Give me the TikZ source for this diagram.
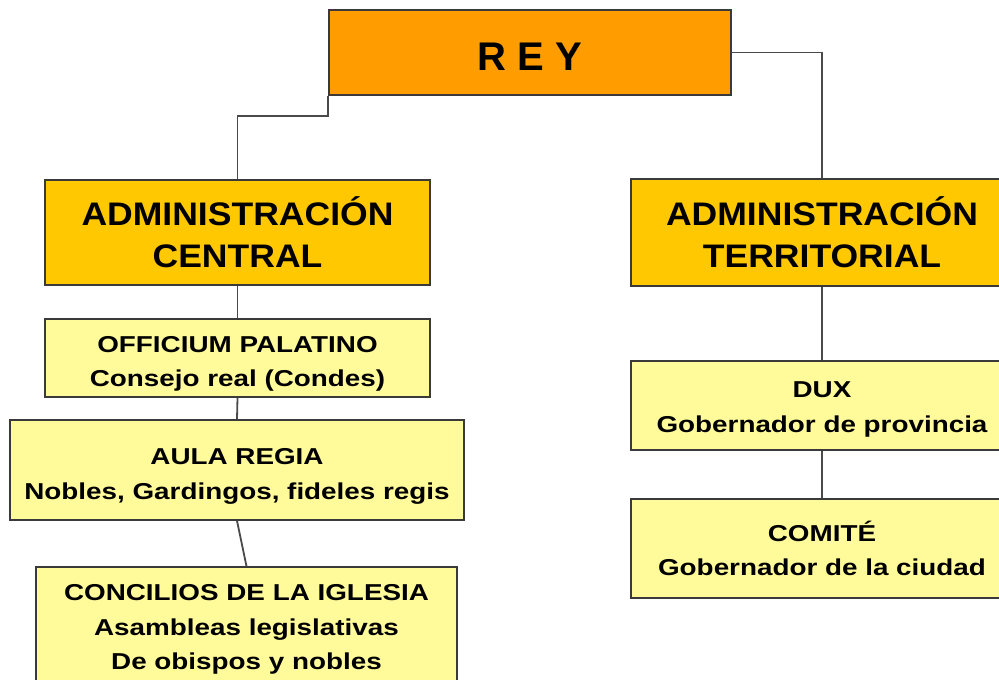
\documentclass[tikz,border=0pt]{standalone}
\usepackage{fontspec}
\setmainfont{Liberation Sans}
\newfontfamily\hdfont{Liberation Sans}[FakeStretch=1.09]
\newfontfamily\smfont{Liberation Sans}[FakeStretch=1.21]
\definecolor{reyorange}{HTML}{FF9C00}
\definecolor{gold}{HTML}{FFC800}
\definecolor{pale}{HTML}{FFFA9A}
\definecolor{edge}{HTML}{3A3A3A}
\definecolor{wire}{HTML}{4A4A4A}
\newcommand{\lowtext}[2]{\raisebox{0pt}[\dimexpr\height+#1pt+#1pt\relax][\depth]{\begin{tabular}{@{}c@{}}#2\end{tabular}}}
\newcommand{\lowword}[2]{\raisebox{0pt}[\dimexpr\height+#1pt+#1pt\relax][\depth]{#2}}
\begin{document}
\begin{tikzpicture}[x=1pt,y=-1pt,
  box/.style={draw=edge, line width=1.5pt, inner sep=0pt, align=center},
  topbox/.style={box, fill=reyorange, font=\fontsize{40}{48}\selectfont\bfseries},
  headbox/.style={box, fill=gold, font=\hdfont\fontsize{32.6}{42}\selectfont\bfseries},
  subbox/.style={box, fill=pale, font=\smfont\fontsize{23}{34.5}\selectfont\bfseries},
  wire/.style={draw=wire, line width=1.8pt}]
\clip (0,0) rectangle (999,680);
\fill[white] (0,0) rectangle (999,680);
\node[topbox, minimum width=402pt, minimum height=85pt] (rey) at (530,52.5) {\lowword{4}{R E Y}};
\node[headbox, minimum width=385pt, minimum height=105pt] (central) at (237.5,232.5) {ADMINISTRACIÓN\\CENTRAL};
\node[headbox, minimum width=382pt, minimum height=107pt] (territorial) at (822,232.5) {ADMINISTRACIÓN\\TERRITORIAL};
\node[subbox, minimum width=385pt, minimum height=76pt] (officium) at (237.5,358) {\lowtext{4.5}{OFFICIUM PALATINO\\Consejo real (Condes)}};
\node[subbox, minimum width=454pt, minimum height=100pt] (aula) at (237,470) {\lowtext{5}{AULA REGIA\\Nobles, Gardingos, fideles regis}};
\node[subbox, minimum width=421pt, minimum height=125pt] (concilios) at (246.5,629.5) {CONCILIOS DE LA IGLESIA\\Asambleas legislativas\\De obispos y nobles};
\node[subbox, minimum width=382pt, minimum height=89pt] (dux) at (822,405.5) {\lowtext{2.5}{DUX\\Gobernador de provincia}};
\node[subbox, minimum width=382pt, minimum height=99pt] (comite) at (822,548.5) {COMITÉ\\Gobernador de la ciudad};
\draw[wire] (rey.south west) -- ++(0,20) -| (central.north);
\draw[wire] (rey.east) -| (territorial.north);
\draw[wire] (central.south) -- (officium.north);
\draw[wire] (officium.south) -- (aula.north);
\draw[wire] (aula.south) -- (concilios.north);
\draw[wire] (territorial.south) -- (dux.north);
\draw[wire] (dux.south) -- (comite.north);
\end{tikzpicture}
\end{document}
